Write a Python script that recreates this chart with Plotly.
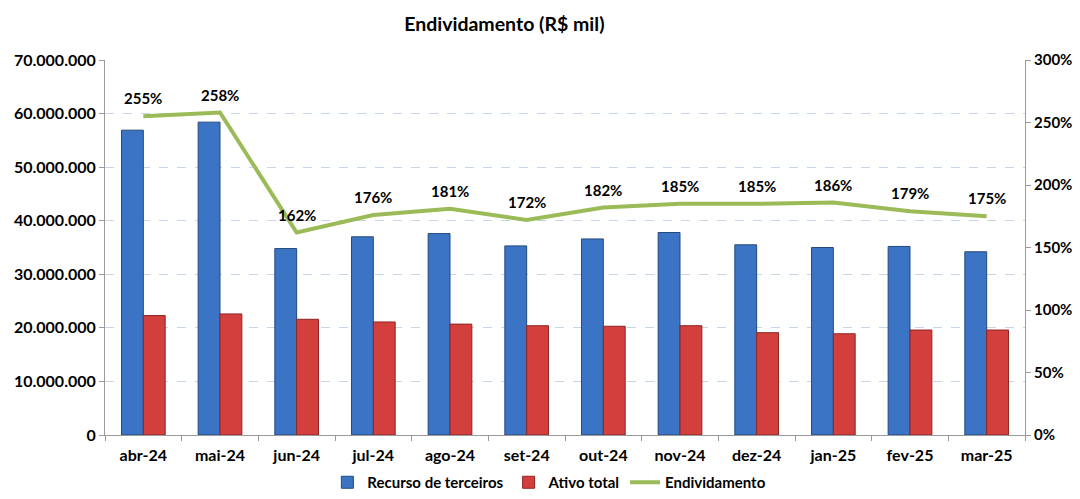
import plotly.graph_objects as go

categories = ["abr-24", "mai-24", "jun-24", "jul-24", "ago-24", "set-24",
              "out-24", "nov-24", "dez-24", "jan-25", "fev-25", "mar-25"]
recurso_terceiros = [56900000, 58400000, 34800000, 37000000, 37600000, 35300000,
                     36600000, 37800000, 35500000, 35000000, 35200000, 34200000]
ativo_total = [22300000, 22600000, 21600000, 21100000, 20700000, 20400000,
               20300000, 20400000, 19100000, 18900000, 19600000, 19600000]
endividamento = [255, 258, 162, 176, 181, 172, 182, 185, 185, 186, 179, 175]

FONT = "Lato"
TF = dict(family=FONT, size=15, color="#000000", weight="bold")
AX = dict(family=FONT, size=16, color="#000000", weight="bold")

fig = go.Figure()
fig.add_trace(go.Bar(
    x=categories, y=recurso_terceiros, name="Recurso de terceiros",
    marker=dict(color="#3B74C4", line=dict(color="#24497F", width=1)),
))
fig.add_trace(go.Bar(
    x=categories, y=ativo_total, name="Ativo total",
    marker=dict(color="#D23F3C", line=dict(color="#8E2523", width=1)),
))
fig.add_trace(go.Scatter(
    x=categories, y=endividamento, name="Endividamento", yaxis="y2",
    mode="lines", line=dict(color="#9BBB59", width=4),
))

for c, v in zip(categories, endividamento):
    fig.add_annotation(x=c, y=v, xref="x", yref="y2", text=f"{v}%",
                       showarrow=False, yanchor="bottom", yshift=7,
                       font=TF)

# page body has an 8px default margin; figure is sized to fit the 1080x499 window
fig.update_layout(
    width=1072, height=491,
    margin=dict(l=97, r=55, t=52, b=64, autoexpand=False),
    paper_bgcolor="white", plot_bgcolor="white",
    separators=",.",
    font=TF,
    title=dict(text="<b>Endividamento (R$ mil)</b>", x=0.463, xanchor="center",
               xref="container", y=0.967, yanchor="middle", yref="container",
               font=dict(family=FONT, size=19.5, color="#000")),
    barmode="group", bargap=0.43, bargroupgap=0,
    showlegend=True,
    legend=dict(orientation="h", x=0.505, xanchor="center", xref="container",
                y=-0.025, yanchor="bottom", yref="container",
                font=TF, itemwidth=30, tracegroupgap=0, traceorder="normal"),
    xaxis=dict(showgrid=False, showline=True, linecolor="#9A9A9A", linewidth=1,
               ticks="outside", tickson="boundaries", ticklen=5, tickcolor="#9A9A9A",
               tickfont=AX, automargin=False, ticklabelstandoff=6),
    yaxis=dict(range=[0, 70000000], dtick=10000000, tickformat=",d",
               showgrid=True, gridcolor="#C5D5EA", griddash="dash", gridwidth=1,
               showline=True, linecolor="#9A9A9A", linewidth=1,
               ticks="outside", ticklen=5, tickcolor="#9A9A9A",
               zeroline=False, tickfont=AX, automargin=False),
    yaxis2=dict(range=[0, 300], dtick=50, ticksuffix="%", overlaying="y", side="right",
                showgrid=False, showline=True, linecolor="#9A9A9A", linewidth=1,
                ticks="outside", ticklen=5, tickcolor="#9A9A9A", zeroline=False,
                tickfont=TF, automargin=False),
)

fig.write_html("out.html")
